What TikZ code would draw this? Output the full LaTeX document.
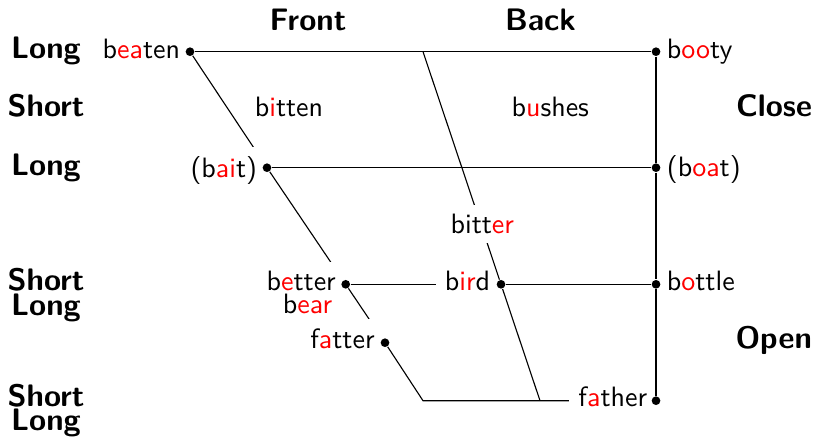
\documentclass[tikz,border=0pt]{standalone}
\pgfdeclarelayer{bg}
\pgfdeclarelayer{mid}
\pgfsetlayers{bg,mid,main}
\newcommand{\rd}[1]{\textcolor{red}{#1}}
\begin{document}
\begin{tikzpicture}[x=0.35714pt,y=-0.35714pt,font=\sffamily,
  dot/.style={circle,fill=black,inner sep=0pt,minimum size=3.1pt},
  lbl/.style={fill=white},
  hd/.style={font=\sffamily\bfseries\fontsize{11.1}{13}\selectfont,inner sep=0pt}]
\useasboundingbox (0,0) rectangle (814,437);
% dots
\node[dot] (d-beaten) at (190,51.7) {};
\node[dot] (d-booty)  at (656,51.7) {};
\node[dot] (d-bait)   at (267,167.7) {};
\node[dot] (d-boat)   at (656,167.7) {};
\node[dot] (d-better) at (345.7,284.3) {};
\node[dot] (d-bird)   at (501,284.3) {};
\node[dot] (d-bottle) at (656,284.3) {};
\node[dot] (d-fatter) at (385,342.7) {};
\node[dot] (d-father) at (656,400.7) {};
\coordinate (corner) at (423,400.7);
\coordinate (topb) at (423,51.7);
\coordinate (botb) at (540,400.7);
% lines partly hidden by labels
\begin{pgfonlayer}{bg}
\draw (d-beaten) -- (d-bait) -- (d-better) -- (d-fatter) -- (corner) -- (d-father);
\draw (d-better) -- (d-bird);
\end{pgfonlayer}
% labels
\begin{pgfonlayer}{mid}
\node[lbl,anchor=base east] (t-beaten) at (190,58.5) {b\rd{ea}ten};
\node[lbl,anchor=base east] (t-bait) at (267,177) {(b\rd{ai}t)};
\node[lbl,anchor=base east] (t-better) at (345.7,290.7) {b\rd{e}tter};
\node[anchor=base] (t-bear) at (307.5,313.3) {b\rd{ear}};
\node[lbl,anchor=base east] (t-fatter) at (384.5,348.3) {f\rd{a}tter};
\node[lbl,anchor=base east] (t-bird) at (500,290.7) {b\rd{ir}d};
\node[lbl,anchor=base east] (t-father) at (657,406.7) {f\rd{a}ther};
\node[lbl,anchor=base west] (t-booty) at (657,58.3) {b\rd{oo}ty};
\node[lbl,anchor=base west] (t-boat) at (657,176.7) {(b\rd{oa}t)};
\node[lbl,anchor=base west] (t-bottle) at (657,290.7) {b\rd{o}ttle};
\node[lbl,anchor=base] (t-bitten) at (289,116.7) {b\rd{i}tten};
\node[lbl,anchor=base] (t-bushes) at (550.3,116.7) {b\rd{u}shes};
\end{pgfonlayer}
% visible lines
\draw (d-beaten) -- (d-booty);
\draw (d-bait) -- (d-boat);
\draw (d-bird) -- (d-bottle);
\draw (d-booty) -- (d-boat) -- (d-bottle) -- (d-father);
\draw (topb) -- (d-bird) -- (botb);
\node[lbl,anchor=base] (t-bitter) at (482.3,233.3) {bitt\rd{er}};
% headings
\node[hd,anchor=base] (h-front) at (308,30) {Front};
\node[hd,anchor=base] (h-back) at (540.5,30) {Back};
\node[hd,anchor=base east] (h-close) at (812.5,116.7) {Close};
\node[hd,anchor=base east] (h-open) at (812.5,348.3) {Open};
\node[hd,anchor=base] (h-l1) at (46,58.5) {Long};
\node[hd,anchor=base] (h-s1) at (46,116.7) {Short};
\node[hd,anchor=base] (h-l2) at (46,175.7) {Long};
\node[hd,anchor=base] (h-s2) at (46,290.7) {Short};
\node[hd,anchor=base] (h-l3) at (46,315) {Long};
\node[hd,anchor=base] (h-s3) at (46,406.7) {Short};
\node[hd,anchor=base] (h-l4) at (46,430.5) {Long};
\end{tikzpicture}
\end{document}
